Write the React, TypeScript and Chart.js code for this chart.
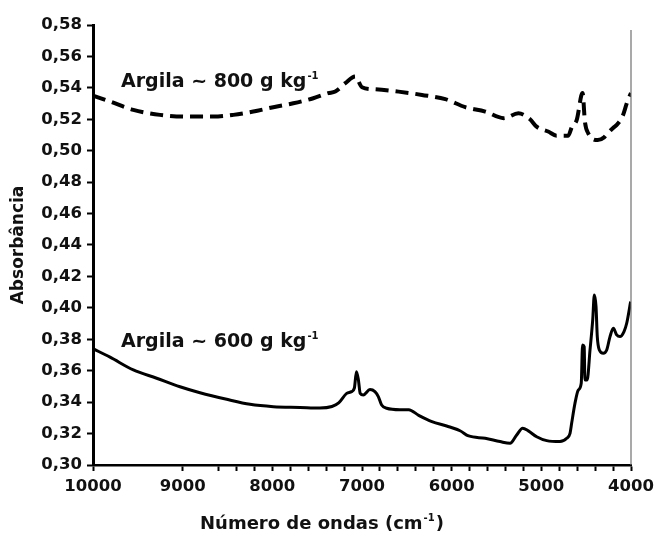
import { useEffect, useRef } from "react";
import { Chart, registerables } from "chart.js";

Chart.register(...registerables);

// ---- data ----
const lowWavenumbers = [
  10000, 9810, 9550, 9290, 9030, 8807, 8509, 8249, 7989, 7692, 7469, 7335, 7260, 7171, 7116, 7085, 7062, 7040,
  7020, 6985, 6911, 6856, 6818, 6781, 6725, 6577, 6479, 6368, 6220, 6056, 5907, 5811, 5626, 5461, 5349, 5275,
  5208, 5145, 5052, 4940, 4792, 4717, 4680, 4662, 4625, 4588, 4555, 4540, 4522, 4514, 4489, 4457, 4427, 4409,
  4390, 4376, 4353, 4309, 4271, 4234, 4197, 4160, 4123, 4078, 4048, 4004,
];
const lowAbsorbance = [
  0.374, 0.3686, 0.3605, 0.3552, 0.3498, 0.346, 0.3418, 0.3386, 0.3371, 0.3366, 0.3362, 0.3372, 0.3395, 0.3456,
  0.3467, 0.349, 0.3594, 0.3541, 0.3456, 0.3446, 0.348, 0.3467, 0.3435, 0.3382, 0.3361, 0.3352, 0.3352, 0.3316,
  0.3276, 0.3248, 0.3218, 0.3185, 0.317, 0.3149, 0.3138, 0.3191, 0.3234, 0.3217, 0.318, 0.3155, 0.3149, 0.317,
  0.3202, 0.3265, 0.3392, 0.3477, 0.352, 0.3764, 0.3753, 0.3541, 0.3541, 0.3732, 0.3923, 0.4082, 0.4008, 0.3817,
  0.3732, 0.3711, 0.3732, 0.3817, 0.387, 0.3828, 0.3817, 0.3849, 0.3902, 0.404,
];

const highWavenumbers = [
  10000, 9810, 9550, 9253, 8955, 8658, 8435, 8212, 7989, 7766, 7543, 7376, 7298, 7186, 7075, 7000, 6852, 6592,
  6331, 6071, 5848, 5625, 5420, 5256, 5126, 5053, 4924, 4830, 4700, 4660, 4605, 4540, 4514, 4477, 4370, 4300,
  4258, 4200, 4150, 4090, 4045, 4000,
];
const highAbsorbance = [
  0.535, 0.5313, 0.526, 0.5228, 0.5217, 0.5217, 0.5228, 0.5249, 0.5277, 0.5302, 0.5334, 0.5366, 0.5377, 0.543,
  0.5472, 0.5404, 0.5391, 0.5376, 0.5355, 0.5328, 0.5277, 0.5249, 0.5207, 0.5238, 0.52, 0.5153, 0.5122, 0.5096,
  0.5096, 0.515, 0.5197, 0.5368, 0.5185, 0.5111, 0.5068, 0.5085, 0.5113, 0.5145, 0.517, 0.5225, 0.5305, 0.5368,
];

const xMajorTicks = [10000, 9000, 8000, 7000, 6000, 5000, 4000];
const xMinorTicks = [
  8600, 8400, 8200, 7800, 7600, 7400, 7200, 6800, 6600, 6400, 6200, 5800, 5600, 5400, 5200, 4800, 4600, 4400, 4200,
];
const yTicks = [0.3, 0.32, 0.34, 0.36, 0.38, 0.4, 0.42, 0.44, 0.46, 0.48, 0.5, 0.52, 0.54, 0.56, 0.58];

const highLabel = "Argila ~ 800 g kg";
const lowLabel = "Argila ~ 600 g kg";
const supText = "-1";
const xTitle = "Número de ondas (cm";
const yTitle = "Absorbância";

const FONT = "'DejaVu Sans', 'Liberation Sans', Arial, sans-serif";

function drawSup(
  ctx: CanvasRenderingContext2D,
  x: number,
  y: number,
  main: string,
  sup: string,
  size: number,
  supSize: number,
  tail = ""
) {
  ctx.font = `bold ${size}px ${FONT}`;
  ctx.textAlign = "left";
  ctx.textBaseline = "alphabetic";
  ctx.fillStyle = "#111";
  ctx.fillText(main, x, y);
  let cx = x + ctx.measureText(main).width + 1;
  ctx.font = `bold ${supSize}px ${FONT}`;
  ctx.fillText(sup, cx, y - size * 0.42);
  cx += ctx.measureText(sup).width + 1;
  if (tail) {
    ctx.font = `bold ${size}px ${FONT}`;
    ctx.fillText(tail, cx, y);
  }
}

const overlayPlugin = {
  id: "overlay",
  afterDraw(chart: any) {
    const { ctx, chartArea: a } = chart;
    ctx.save();
    ctx.strokeStyle = "#707070";
    ctx.lineWidth = 1.2;
    ctx.beginPath();
    ctx.moveTo(a.right, a.top + 5);
    ctx.lineTo(a.right, a.bottom);
    ctx.stroke();

    drawSup(ctx, a.left + 28, a.top + 62, highLabel, supText, 19, 10);
    drawSup(ctx, a.left + 28, a.top + 322, lowLabel, supText, 19, 10);
    drawSup(ctx, 200, 529, xTitle, supText, 18, 10, ")");
    ctx.restore();
  },
};

export default function App() {
  const ref = useRef<HTMLCanvasElement | null>(null);

  useEffect(() => {
    if (!ref.current) return;
    const low = lowWavenumbers.map((x, i) => ({ x, y: lowAbsorbance[i] }));
    const high = highWavenumbers.map((x, i) => ({ x, y: highAbsorbance[i] }));

    const chart = new Chart(ref.current, {
      type: "line",
      data: {
        datasets: [
          {
            label: highLabel,
            data: high,
            borderColor: "#000",
            borderWidth: 4,
            borderDash: [13, 7],
            pointRadius: 0,
            cubicInterpolationMode: "monotone",
            fill: false,
          },
          {
            label: lowLabel,
            data: low,
            borderColor: "#000",
            borderWidth: 3,
            pointRadius: 0,
            cubicInterpolationMode: "monotone",
            fill: false,
          },
        ],
      },
      options: {
        animation: false,
        responsive: true,
        maintainAspectRatio: false,
        layout: { padding: { left: 0, right: 33, top: 25, bottom: 0 } },
        plugins: { legend: { display: false }, tooltip: { enabled: false } },
        scales: {
          x: {
            type: "linear",
            reverse: true,
            min: 4000,
            max: 10000,
            afterFit: (s: any) => {
              s.height = 70;
            },
            afterBuildTicks: (s: any) => {
              s.ticks = [...xMajorTicks, ...xMinorTicks].sort((p, q) => p - q).map((value) => ({ value }));
            },
            ticks: {
              autoSkip: false,
              maxRotation: 0,
              padding: 6,
              color: "#111",
              font: { family: FONT, size: 16.5, weight: "bold" },
              callback: (v: any) => (xMajorTicks.includes(Number(v)) ? String(v) : ""),
            },
            grid: {
              drawOnChartArea: false,
              drawTicks: true,
              tickLength: 6,
              tickWidth: 2,
              tickColor: "#000",
            },
            border: { display: true, color: "#000", width: 2.5 },
          },
          y: {
            type: "linear",
            min: 0.3,
            max: 0.58,
            afterFit: (s: any) => {
              s.width = 93;
            },
            afterBuildTicks: (s: any) => {
              s.ticks = yTicks.map((value) => ({ value }));
            },
            ticks: {
              padding: 5,
              color: "#111",
              font: { family: FONT, size: 16.5, weight: "bold" },
              callback: (v: any) => Number(v).toFixed(2).replace(".", ","),
            },
            grid: {
              drawOnChartArea: false,
              drawTicks: true,
              tickLength: 6,
              tickWidth: 2,
              tickColor: "#000",
            },
            border: { display: true, color: "#000", width: 3 },
            title: {
              display: true,
              text: yTitle,
              color: "#111",
              font: { family: FONT, size: 17, weight: "bold" },
              padding: { top: 8, bottom: 0 },
            },
          },
        },
      },
      plugins: [overlayPlugin],
    });
    return () => chart.destroy();
  }, []);

  return (
    <div style={{ position: "fixed", left: 0, top: 0, width: 664, height: 535, background: "#fff" }}>
      <canvas ref={ref} />
    </div>
  );
}
